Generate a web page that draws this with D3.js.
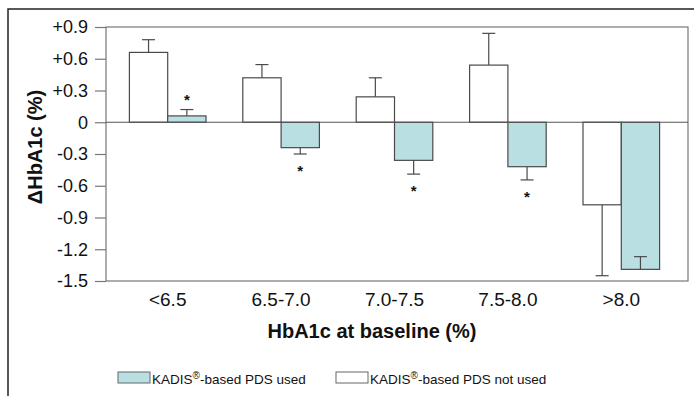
<!DOCTYPE html>
<html>
<head>
<meta charset="utf-8">
<script src="https://cdn.jsdelivr.net/npm/d3@7"></script>
<style>
  body { margin:0; background:#fff; }
  text { font-family: "Liberation Sans", Arial, sans-serif; }
</style>
</head>
<body>
<svg width="694" height="396"></svg>
<script>
// data
var categories = ["<6.5", "6.5-7.0", "7.0-7.5", "7.5-8.0", ">8.0"];
var notUsed    = [0.66, 0.42, 0.24, 0.54, -0.78];
var notUsedErr = [0.78, 0.545, 0.42, 0.84, -1.45];
var used       = [0.06, -0.24, -0.36, -0.42, -1.39];
var usedErr    = [0.12, -0.30, -0.49, -0.545, -1.27];
var significant = [true, true, true, true, false];
var tickValues = [-1.5, -1.2, -0.9, -0.6, -0.3, 0, 0.3, 0.6, 0.9];
var tickLabels = ["-1.5", "-1.2", "-0.9", "-0.6", "-0.3", "0", "+0.3", "+0.6", "+0.9"];
var seriesNames = ["KADIS\u00AE-based PDS used", "KADIS\u00AE-based PDS not used"];

var teal = "#badfe3";
var barStroke = "#4a4a4a";

var svg = d3.select("svg");

// outer frame
svg.append("path")
   .attr("d", "M8,400 L8,9 L700,9")
   .attr("fill", "none")
   .attr("stroke", "#222")
   .attr("stroke-width", 1.5);

var plot = {left:106, right:688, top:27, bottom:281};

var y = d3.scaleLinear()
          .domain([-1.5, 0.9])
          .range([plot.bottom, plot.top]);

var x0 = d3.scaleBand()
           .domain(categories)
           .range([111, 678])
           .paddingInner(0.3245)
           .paddingOuter(0.16225);

var x1 = d3.scaleBand()
           .domain(["notUsed", "used"])
           .range([0, x0.bandwidth()]);

// plot border
svg.append("rect")
   .attr("x", plot.left)
   .attr("y", plot.top)
   .attr("width", plot.right - plot.left)
   .attr("height", plot.bottom - plot.top)
   .attr("fill", "none")
   .attr("stroke", "#777")
   .attr("stroke-width", 1.2);

// y axis
var yAxis = d3.axisLeft(y)
              .tickValues(tickValues)
              .tickSize(11)
              .tickPadding(7)
              .tickFormat(function(d, i){ return tickLabels[i]; });

var ga = svg.append("g")
            .attr("transform", "translate(" + plot.left + ",0)")
            .call(yAxis);
ga.select(".domain").remove();
ga.selectAll("line").attr("stroke", "#777").attr("stroke-width", 1.2);
ga.selectAll("text")
  .attr("font-size", "18px")
  .attr("fill", "#111")
  .style("font-family", "'Liberation Sans', Arial, sans-serif");

// x labels
svg.append("g")
   .selectAll("text")
   .data(categories)
   .enter()
   .append("text")
   .attr("x", function(d){ return x0(d) + x0.bandwidth() / 2; })
   .attr("y", 306)
   .attr("text-anchor", "middle")
   .attr("font-size", "19px")
   .attr("fill", "#111")
   .text(function(d){ return d; });

var groups = svg.append("g")
                .selectAll("g")
                .data(categories)
                .enter()
                .append("g")
                .attr("transform", function(d){ return "translate(" + x0(d) + ",0)"; });

function errorBar(g, cx, from, to)
{
  g.append("line").attr("x1", cx).attr("x2", cx)
   .attr("y1", y(from)).attr("y2", y(to))
   .attr("stroke", barStroke).attr("stroke-width", 1.2);
  g.append("line").attr("x1", cx - 6.5).attr("x2", cx + 6.5)
   .attr("y1", y(to)).attr("y2", y(to))
   .attr("stroke", barStroke).attr("stroke-width", 1.2);
}

function drawBars(key, values, errs, fill)
{
  var cx = x1(key) + x1.bandwidth() / 2;
  groups.each(function(d, i){
    errorBar(d3.select(this), cx, values[i], errs[i]);
  });
  groups.append("rect")
        .attr("x", x1(key))
        .attr("width", x1.bandwidth())
        .attr("y", function(d, i){ return y(Math.max(0, values[i])); })
        .attr("height", function(d, i){ return Math.abs(y(values[i]) - y(0)); })
        .attr("fill", fill)
        .attr("stroke", barStroke)
        .attr("stroke-width", 1.2);
  // error bars that point back into the bar go on top of it
  groups.each(function(d, i){
    if (Math.abs(errs[i]) < Math.abs(values[i])) errorBar(d3.select(this), cx, values[i], errs[i]);
  });
}

drawBars("notUsed", notUsed, notUsedErr, "#fff");
drawBars("used", used, usedErr, teal);

// zero line
svg.append("line")
   .attr("x1", plot.left)
   .attr("x2", plot.right)
   .attr("y1", y(0))
   .attr("y2", y(0))
   .attr("stroke", "#555")
   .attr("stroke-width", 1.2);

// significance stars
groups.filter(function(d, i){ return significant[i]; })
      .append("text")
      .attr("x", x1("used") + x1.bandwidth() / 2)
      .attr("y", function(d){
        var i = categories.indexOf(d);
        return usedErr[i] > 0 ? y(usedErr[i]) - 5 : y(usedErr[i]) + 22;
      })
      .attr("text-anchor", "middle")
      .attr("font-size", "15px")
      .attr("font-weight", "bold")
      .attr("fill", "#111")
      .text("*");

// axis titles
svg.append("text")
   .attr("x", 372)
   .attr("y", 338)
   .attr("text-anchor", "middle")
   .attr("font-size", "20px")
   .attr("font-weight", "bold")
   .attr("fill", "#111")
   .text("HbA1c at baseline (%)");

svg.append("text")
   .attr("transform", "translate(42,147) rotate(-90)")
   .attr("text-anchor", "middle")
   .attr("font-size", "20px")
   .attr("font-weight", "bold")
   .attr("fill", "#111")
   .text("\u0394HbA1c (%)");

// legend
var legend = svg.append("g")
                .selectAll("g")
                .data(seriesNames)
                .enter()
                .append("g")
                .attr("transform", function(d, i){ return "translate(" + [118, 336][i] + ",372)"; });

legend.append("rect")
      .attr("width", 32)
      .attr("height", 11)
      .attr("fill", function(d, i){ return i == 0 ? teal : "#fff"; })
      .attr("stroke", "#666")
      .attr("stroke-width", 1);

legend.append("text")
      .attr("x", 34)
      .attr("y", 12)
      .attr("font-size", "13.5px")
      .attr("fill", "#111")
      .each(function(d){
        var parts = d.split("\u00AE");
        var t = d3.select(this);
        t.append("tspan").text(parts[0]);
        t.append("tspan").attr("font-size", "10px").attr("dy", -5).text("\u00AE");
        t.append("tspan").attr("dy", 5).text(parts[1]);
      });
</script>
</body>
</html>
